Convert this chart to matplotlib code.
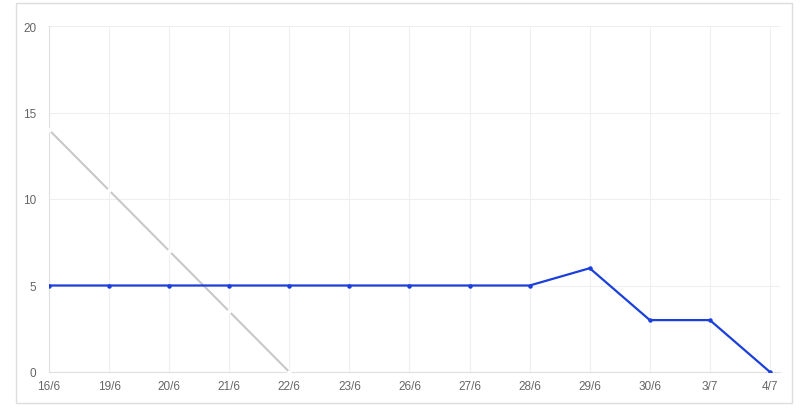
import matplotlib.pyplot as plt
from matplotlib.patches import Rectangle

labels = ["16/6", "19/6", "20/6", "21/6", "22/6", "23/6", "26/6", "27/6",
          "28/6", "29/6", "30/6", "3/7", "4/7"]
ideal = [14, 10.5, 7, 3.5, 0]
actual = [5, 5, 5, 5, 5, 5, 5, 5, 5, 6, 3, 3, 0]

plt.rcParams["font.family"] = ["Liberation Sans", "DejaVu Sans"]

fig = plt.figure(figsize=(8, 4.14), dpi=100)
fig.patches.append(Rectangle((16 / 800, 1 - 404 / 414), 776 / 800, 400 / 414,
                             transform=fig.transFigure, fill=False,
                             edgecolor="#dddddd", linewidth=1))
ax = fig.add_axes([49 / 800, 1 - 373 / 414, 731 / 800, 346 / 414])

x = list(range(len(labels)))
ax.plot(x[:len(ideal)], ideal, color="#c8c8c8", linewidth=1.5, zorder=2)
ax.plot(x[:len(ideal)], ideal, "o", color="white", markersize=2.2, zorder=3)
ax.plot(x, actual, color="#1a3fdc", linewidth=1.6, marker="o",
        markersize=2.2, zorder=4)

ax.set_xlim(0, 12 + 10 / 60)
ax.set_ylim(0, 20)
ax.set_xticks(x)
ax.set_xticklabels(labels)
ax.set_yticks([0, 5, 10, 15, 20])
ax.tick_params(length=0, labelsize=8.5, labelcolor="#666666")
ax.tick_params(axis="x", pad=6)
ax.tick_params(axis="y", pad=9)
ax.grid(True, color="#efefef", linewidth=0.8)
ax.set_axisbelow(True)
for side in ["top", "right"]:
    ax.spines[side].set_visible(False)
for side in ["left", "bottom"]:
    ax.spines[side].set_color("#e0e0e0")
    ax.spines[side].set_linewidth(0.8)

fig.savefig("out.png", dpi=100)
